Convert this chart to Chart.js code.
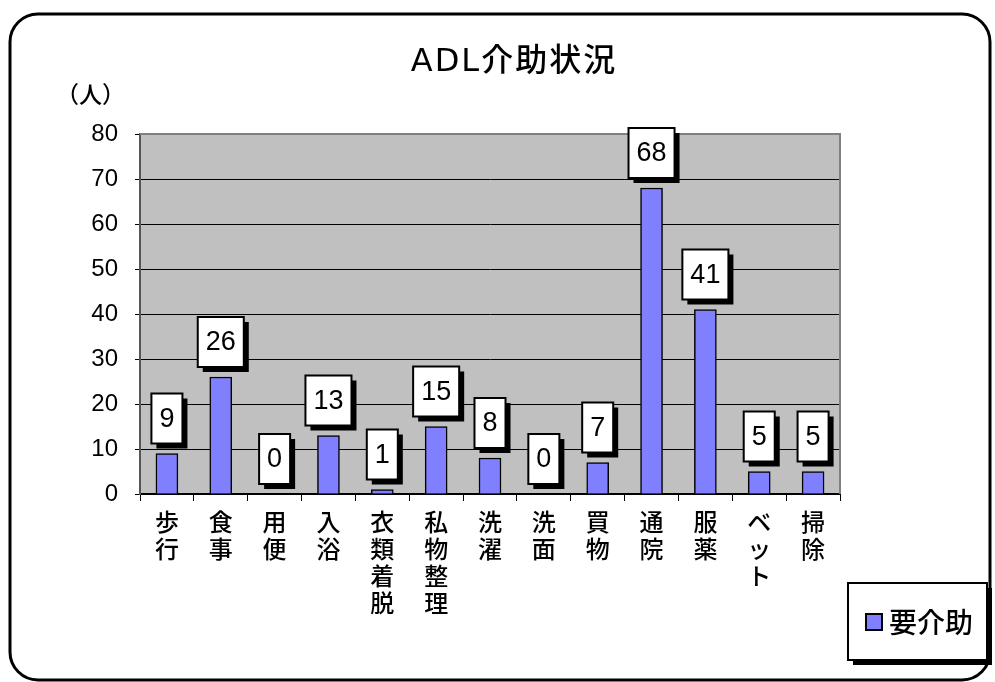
<!DOCTYPE html>
<html>
<head>
<meta charset="utf-8">
<script src="https://cdn.jsdelivr.net/npm/chart.js@4/dist/chart.umd.min.js"></script>
<style>
  html, body { margin: 0; padding: 0; background: #fff; }
  #wrap { position: relative; width: 995px; height: 682px; }
</style>
</head>
<body>
<div id="wrap"><canvas id="adlChart" width="995" height="682"></canvas></div>
<script>
const chartTitle = "ADL介助状況";
const unitLabel = "（人）";
const categories = ["歩行", "食事", "用便", "入浴", "衣類着脱", "私物整理", "洗濯", "洗面", "買物", "通院", "服薬", "ベット", "掃除"];
const needHelp = [9, 26, 0, 13, 1, 15, 8, 0, 7, 68, 41, 5, 5];
const seriesName = "要介助";
const yTicks = [0, 10, 20, 30, 40, 50, 60, 70, 80];

const JP = "'Noto Sans CJK JP', sans-serif";
const NUM = "'Liberation Sans', 'Noto Sans CJK JP', sans-serif";
const BAR_COLOR = "#8080FF";

// background, frame, title, value boxes and legend
const decorPlugin = {
    id: "decor",
    beforeDraw(chart) {
        const c = chart.ctx;
        const a = chart.chartArea;
        c.save();
        c.fillStyle = "#fff";
        c.fillRect(0, 0, chart.width, chart.height);
        c.fillStyle = "#C0C0C0";
        c.fillRect(a.left, a.top, a.right - a.left, a.bottom - a.top);
        c.restore();
    },
    afterDraw(chart) {
        const c = chart.ctx;
        const a = chart.chartArea;
        c.save();

        // plot border top / right
        c.strokeStyle = "#808080";
        c.lineWidth = 2;
        c.beginPath();
        c.moveTo(a.left, a.top);
        c.lineTo(a.right, a.top);
        c.lineTo(a.right, a.bottom);
        c.stroke();

        // outer rounded frame
        c.strokeStyle = "#000";
        c.lineWidth = 3;
        c.beginPath();
        c.roundRect(10, 14, 980, 666, 28);
        c.stroke();

        // title
        c.fillStyle = "#000";
        c.font = "500 32px 'DejaVu Sans', 'Noto Sans CJK JP', sans-serif";
        c.letterSpacing = "2px";
        c.textAlign = "center";
        c.textBaseline = "middle";
        c.fillText(chartTitle, 514, 63);
        c.letterSpacing = "0px";

        c.font = "500 23px " + JP;
        c.textAlign = "left";
        c.fillText(unitLabel, 56, 94);

        // value boxes
        const meta = chart.getDatasetMeta(0);
        c.font = "27px " + NUM;
        c.textAlign = "center";
        c.textBaseline = "middle";
        meta.data.forEach((bar, i) => {
            const txt = String(needHelp[i]);
            const w = c.measureText(txt).width + 16;
            const h = 50;
            const x = bar.x - w / 2;
            const y = bar.y - 10 - h;
            c.fillStyle = "#000";
            c.fillRect(x + 5, y + 5, w, h);
            c.fillStyle = "#fff";
            c.fillRect(x, y, w, h);
            c.strokeStyle = "#000";
            c.lineWidth = 2;
            c.strokeRect(x, y, w, h);
            c.fillStyle = "#000";
            c.fillText(txt, bar.x, y + h / 2 + 1);
        });

        // legend
        const lx = 848, ly = 583, lw = 139, lh = 77;
        c.fillStyle = "#000";
        c.fillRect(lx + 5, ly + 5, lw, lh);
        c.fillStyle = "#fff";
        c.fillRect(lx, ly, lw, lh);
        c.lineWidth = 2;
        c.strokeRect(lx, ly, lw, lh);
        c.fillStyle = BAR_COLOR;
        c.fillRect(866, 614, 16, 16);
        c.lineWidth = 2;
        c.strokeRect(866, 614, 16, 16);
        c.fillStyle = "#000";
        c.font = "500 28px " + JP;
        c.textAlign = "left";
        c.fillText(seriesName, 889, 622);

        c.restore();
    }
};

const ctx = document.getElementById("adlChart").getContext("2d");
const adlChart = new Chart(ctx, {
    type: "bar",
    data: {
        labels: categories.map(s => Array.from(s)),
        datasets: [
            {
                label: seriesName,
                data: needHelp,
                backgroundColor: BAR_COLOR,
                borderColor: "#000",
                borderWidth: 1.5,
                barThickness: 22,
            },
        ],
    },
    options: {
        responsive: false,
        animation: false,
        layout: {
            padding: { top: 134, right: 155, left: 0, bottom: 0 },
        },
        plugins: {
            legend: { display: false },
            tooltip: { enabled: false },
        },
        scales: {
            x: {
                offset: true,
                afterFit(scale) { scale.height = 188; },
                grid: {
                    offset: true,
                    drawOnChartArea: false,
                    drawTicks: true,
                    tickLength: 7,
                    color: "#000",
                },
                border: { display: true, color: "#000", width: 2 },
                ticks: {
                    color: "#000",
                    font: { family: JP, size: 24, weight: 500, lineHeight: 1.125 },
                    maxRotation: 0,
                    autoSkip: false,
                    padding: 7,
                },
            },
            y: {
                min: 0,
                max: 80,
                afterFit(scale) { scale.width = 140; },
                afterBuildTicks(scale) { scale.ticks = yTicks.map(v => ({ value: v })); },
                grid: {
                    color: "#000",
                    lineWidth: 1,
                    tickLength: 5,
                },
                border: { display: true, color: "#555", width: 2 },
                ticks: {
                    color: "#000",
                    font: { family: NUM, size: 24 },
                    padding: 17,
                },
            },
        },
    },
    plugins: [decorPlugin],
});
</script>
</body>
</html>
